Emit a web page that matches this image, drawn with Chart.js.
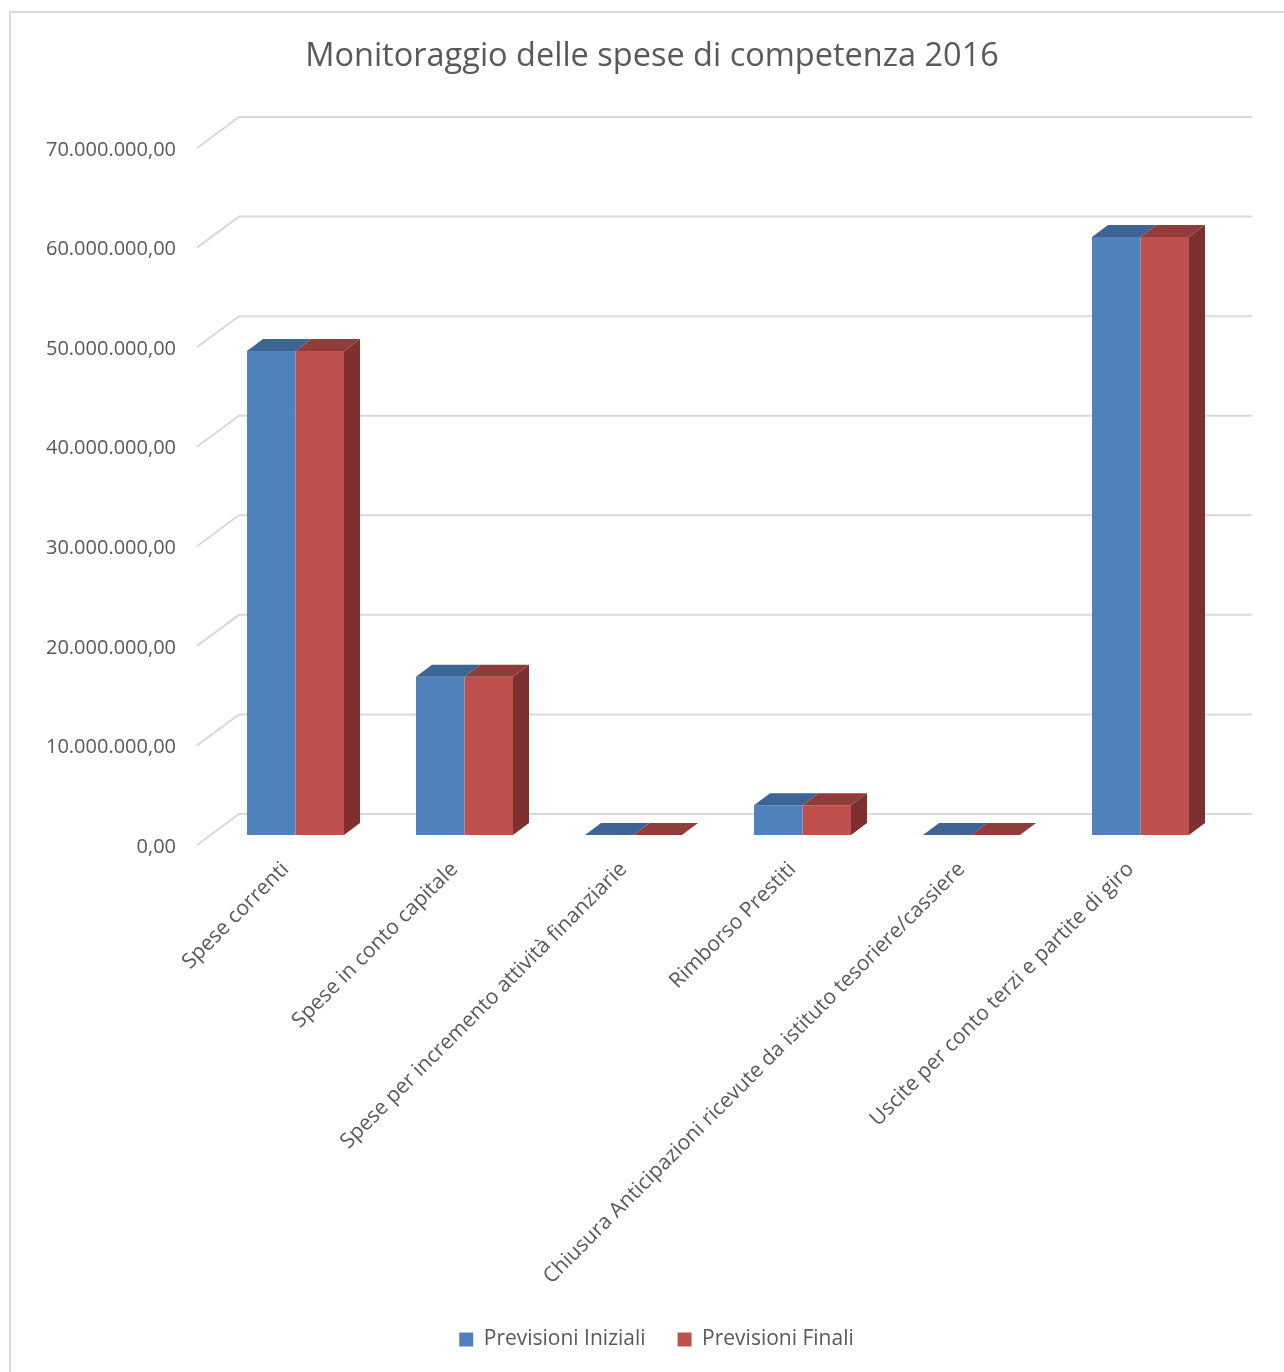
<!DOCTYPE html>
<html>
<head>
<meta charset="utf-8">
<title>Monitoraggio delle spese di competenza 2016</title>
<script src="https://cdn.jsdelivr.net/npm/chart.js@4.4.1/dist/chart.umd.min.js"></script>
<style>
  html, body { margin: 0; padding: 0; background: #fff; }
  canvas { display: block; }
</style>
</head>
<body>
<canvas id="grafico_spese" width="1284" height="1372"></canvas>
<script>
var titolo = 'Monitoraggio delle spese di competenza 2016';
var categorie = [
	'Spese correnti',
	'Spese in conto capitale',
	'Spese per incremento attività finanziarie',
	'Rimborso Prestiti',
	'Chiusura Anticipazioni ricevute da istituto tesoriere/cassiere',
	'Uscite per conto terzi e partite di giro'
];
var previsioni_iniziali = [48600000, 15900000, 0, 3000000, 0, 60050000];
var previsioni_finali = [48600000, 15900000, 0, 3000000, 0, 60050000];
var tick_y = [0, 10000000, 20000000, 30000000, 40000000, 50000000, 60000000, 70000000];

var GRIGIO = '#595959';
var GRIGLIA = '#d9d9d9';
var PROF_X = 16, PROF_Y = -12;   // depth of each bar

function formatta(v) {
	var s = Math.round(v).toString().replace(/\B(?=(\d{3})+(?!\d))/g, '.');
	return s + ',00';
}

// frame, title, back wall lines, floor diagonals and the 3d faces of the bars
var sfondo3d = {
	id: 'sfondo3d',
	afterLayout: function(chart) {
		// legend sits a bit right of the layout centre
		chart.legend.left += 34;
		chart.legend.right += 34;
	},
	beforeDraw: function(chart) {
		var ctx = chart.ctx;
		ctx.save();
		ctx.strokeStyle = GRIGLIA;
		ctx.lineWidth = 2;
		ctx.beginPath();
		ctx.moveTo(10, 1372);
		ctx.lineTo(10, 12);
		ctx.lineTo(1284, 12);
		ctx.stroke();
		ctx.fillStyle = GRIGIO;
		ctx.font = '32.5px "Open Sans"';
		ctx.textAlign = 'center';
		ctx.textBaseline = 'middle';
		ctx.fillText(titolo, 652, 57);
		ctx.restore();
	},
	beforeDatasetsDraw: function(chart) {
		var ctx = chart.ctx;
		var area = chart.chartArea;
		var sy = chart.scales.y;
		ctx.save();
		ctx.strokeStyle = GRIGLIA;
		ctx.lineWidth = 2;
		for (var i = 0; i < tick_y.length; i++) {
			var y = sy.getPixelForValue(tick_y[i]);
			ctx.beginPath();
			ctx.moveTo(area.left - 14, y + 10);
			ctx.lineTo(area.left + 28, y - 21);
			ctx.lineTo(area.right + 27, y - 21);
			ctx.stroke();
		}
		ctx.restore();
	},
	afterDatasetsDraw: function(chart) {
		var ctx = chart.ctx;
		var colori = [
			{ top: '#3d6594', side: '#34577f' },
			{ top: '#913c3a', side: '#7d302f' }
		];
		ctx.save();
		chart.data.datasets.forEach(function(ds, d) {
			var meta = chart.getDatasetMeta(d);
			meta.data.forEach(function(bar) {
				var p = bar.getProps(['x', 'y', 'base', 'width'], true);
				var l = p.x - p.width / 2, r = p.x + p.width / 2;
				if (d === chart.data.datasets.length - 1) {
					ctx.fillStyle = colori[d].side;
					ctx.beginPath();
					ctx.moveTo(r, p.y);
					ctx.lineTo(r + PROF_X, p.y + PROF_Y);
					ctx.lineTo(r + PROF_X, p.base + PROF_Y);
					ctx.lineTo(r, p.base);
					ctx.closePath();
					ctx.fill();
				}
				ctx.fillStyle = colori[d].top;
				ctx.beginPath();
				ctx.moveTo(l, p.y);
				ctx.lineTo(r, p.y);
				ctx.lineTo(r + PROF_X, p.y + PROF_Y);
				ctx.lineTo(l + PROF_X, p.y + PROF_Y);
				ctx.closePath();
				ctx.fill();
			});
		});
		ctx.restore();
	}
};

var ctx = document.getElementById('grafico_spese');

var grafico = new Chart(ctx, {
	type: 'bar',
	data: {
		labels: categorie,
		datasets: [
			{
				label: 'Previsioni Iniziali',
				backgroundColor: '#4f81bd',
				borderWidth: 0,
				data: previsioni_iniziali
			},
			{
				label: 'Previsioni Finali',
				backgroundColor: '#c0504d',
				borderWidth: 0,
				data: previsioni_finali
			}
		]
	},
	options: {
		responsive: false,
		animation: false,
		categoryPercentage: 0.574,
		barPercentage: 1,
		layout: { padding: { left: 20, right: 59, top: 138, bottom: 12 } },
		plugins: {
			title: { display: false },
			legend: {
				position: 'bottom',
				labels: {
					color: GRIGIO,
					font: { family: 'Open Sans', size: 21 },
					boxWidth: 14,
					boxHeight: 14,
					padding: 32
				}
			},
			tooltip: { enabled: false }
		},
		scales: {
			x: {
				grid: { display: false, drawTicks: false },
				border: { display: false },
				ticks: {
					autoSkip: false,
					minRotation: 45,
					maxRotation: 45,
					padding: 22,
					labelOffset: -10,
					color: GRIGIO,
					font: { family: 'Open Sans', size: 21 }
				},
				afterFit: function(scale) { scale.height = 462; }
			},
			y: {
				min: 0,
				max: 70000000,
				grid: { display: false, drawTicks: false },
				border: { display: false },
				afterBuildTicks: function(scale) {
					scale.ticks = tick_y.map(function(v) { return { value: v }; });
				},
				ticks: {
					padding: 35,
					labelOffset: 12,
					color: GRIGIO,
					font: { family: 'Open Sans', size: 20 },
					callback: function(v) { return formatta(v); }
				},
				afterFit: function(scale) { scale.width = 191; }
			}
		}
	},
	plugins: [sfondo3d]
});
</script>
</body>
</html>
